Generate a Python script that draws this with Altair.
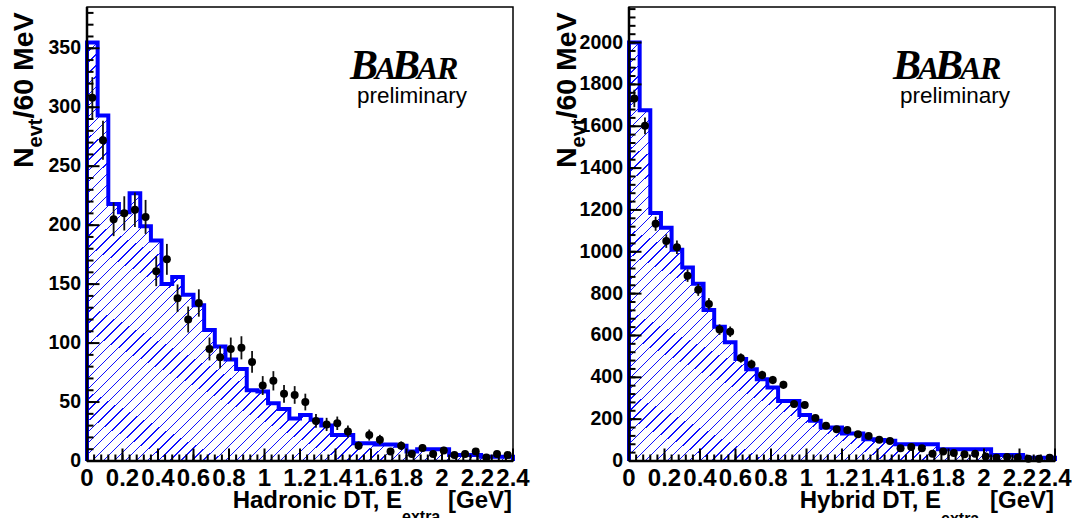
import altair as alt
import pandas as pd

# ---------------- data ----------------
edges = [round(0.06 * i, 2) for i in range(41)]          # 60 MeV bins, 0 .. 2.4 GeV
centers = [round(0.06 * i + 0.03, 3) for i in range(40)]

had_mc = [355, 293, 218, 211, 227, 199, 187, 150, 156, 141, 132, 111, 97, 86, 78, 60,
          59, 49, 44, 36, 39, 35, 30, 22, 22, 15, 15, 14, 14, 13, 8, 10, 10, 10, 5, 5,
          5, 3.5, 3.5, 3.5]
had_data = [308, 272, 205, 210, 213, 207, 161, 171, 138, 120, 134, 95, 88, 95, 96, 84,
            64, 68, 57, 56, 50, 34, 31, 32, 25, 13, 22, 18, 8, 13, 6, 11, 6, 9, 5, 6,
            8, 3, 6, 5]
had_err = [17.5, 16.5, 14.3, 14.5, 14.6, 14.4, 12.7, 13.1, 11.7, 11.0, 11.6, 9.7, 9.4,
           9.7, 9.8, 9.2, 8.0, 8.2, 7.5, 7.5, 7.1, 5.8, 5.6, 5.7, 5.0, 3.6, 4.7, 4.2,
           2.8, 3.6, 2.4, 3.3, 2.4, 3.0, 2.2, 2.4, 2.8, 1.7, 2.4, 2.2]

hyb_mc = [2000, 1677, 1185, 1115, 1010, 925, 847, 722, 642, 567, 487, 439, 391, 351,
          287, 287, 220, 192, 160, 160, 131, 131, 104, 100, 97, 80, 80, 80, 80, 56, 56,
          56, 56, 56, 29, 29, 29, 16, 16, 16]
hyb_data = [1733, 1602, 1134, 1051, 1022, 886, 818, 751, 628, 618, 492, 463, 411, 387,
            364, 272, 268, 205, 168, 152, 148, 128, 120, 102, 96, 61, 67, 61, 35, 45,
            38, 32, 35, 22, 16, 19, 16, 11, 11, 16]
hyb_err = [41.6, 40.0, 33.7, 32.4, 32.0, 29.8, 28.6, 27.4, 25.1, 24.9, 22.2, 21.5, 20.3,
           19.7, 19.1, 16.5, 16.4, 14.3, 13.0, 12.3, 12.2, 11.3, 11.0, 10.1, 9.8, 7.8,
           8.2, 7.8, 5.9, 6.7, 6.2, 5.7, 5.9, 4.7, 4.0, 4.4, 4.0, 3.3, 3.3, 4.0]

x_labels = [0, 0.2, 0.4, 0.6, 0.8, 1, 1.2, 1.4, 1.6, 1.8, 2, 2.2, 2.4]
x_label_text = ["0", "0.2", "0.4", "0.6", "0.8", "1", "1.2", "1.4", "1.6", "1.8", "2",
                "2.2", "2.4"]
x_minor = [round(0.04 * i, 2) for i in range(61)]
had_y_labels = [0, 50, 100, 150, 200, 250, 300, 350]
had_y_minor = [10 * i for i in range(39)]
hyb_y_labels = [0, 200, 400, 600, 800, 1000, 1200, 1400, 1600, 1800, 2000]
hyb_y_minor = [40 * i for i in range(55)]

W, H = 1072, 518
BLUE = "#0000ff"
SANS = "Liberation Sans"
SERIF = "Liberation Serif"
one = pd.DataFrame({"k": [0]})


def hatch_fill(n=77, frac=0.12):
    stops = []
    d = 1.0 / n
    for i in range(n):
        a = round(i * d, 6)
        b = round(i * d + d * (1 - frac), 6)
        c = round(min(1.0, (i + 1) * d), 6)
        stops += [alt.GradientStop(offset=a, color="white"),
                  alt.GradientStop(offset=b, color="white"),
                  alt.GradientStop(offset=b, color="#1010ff"),
                  alt.GradientStop(offset=c, color="#1010ff")]
    return alt.LinearGradient(gradient="linear", stops=stops, x1=0, y1=0, x2=1, y2=1)


def txt(s, x, y, size, weight="bold", font=SANS, align="left", angle=0, style="normal"):
    return alt.Chart(one).mark_text(
        align=align, baseline="alphabetic", fontSize=size, font=font,
        fontWeight=weight, fontStyle=style, angle=angle, color="black"
    ).encode(x=alt.value(x), y=alt.value(y), text=alt.value(s))


def panel(mc, data, err, ymax, x_px, y_px, y_labels, y_minor, y_lab_size,
          xtitle, e_right, sub_base, dx):
    xs = alt.Scale(domain=[0, 2.4], range=x_px, nice=False, zero=False)
    ys = alt.Scale(domain=[0, ymax], range=y_px, nice=False, zero=False)
    ppx = (x_px[1] - x_px[0]) / 2.4
    ppy = (y_px[0] - y_px[1]) / ymax

    area_df = pd.DataFrame({"x": edges, "y": mc + [mc[-1]]})
    line_df = pd.DataFrame({"x": [0] + edges + [2.4],
                            "y": [0] + mc + [mc[-1], 0],
                            "o": list(range(43))})
    pts_df = pd.DataFrame({"x": centers, "y": data,
                           "lo": [d - e for d, e in zip(data, err)],
                           "hi": [d + e for d, e in zip(data, err)]})

    area = alt.Chart(area_df).mark_area(interpolate="step-after", fill=hatch_fill(),
                                        opacity=1).encode(
        x=alt.X("x:Q", scale=xs, axis=None), y=alt.Y("y:Q", scale=ys, axis=None))
    outline = alt.Chart(line_df).mark_line(interpolate="step-after", color=BLUE,
                                           strokeWidth=4, strokeJoin="miter").encode(
        x=alt.X("x:Q", scale=xs, axis=None), y=alt.Y("y:Q", scale=ys, axis=None),
        order="o:Q")
    bars = alt.Chart(pts_df).mark_rule(color="#111111", strokeWidth=1.8).encode(
        x=alt.X("x:Q", scale=xs, axis=None), y=alt.Y("lo:Q", scale=ys, axis=None),
        y2="hi:Q")
    dots = alt.Chart(pts_df).mark_circle(color="black", size=64, opacity=1).encode(
        x=alt.X("x:Q", scale=xs, axis=None), y=alt.Y("y:Q", scale=ys, axis=None))

    # tick marks (pointing into the frame)
    ytk = pd.DataFrame({"v": y_minor + y_labels, "a": 0.0,
                        "b": [6.5 / ppx] * len(y_minor) + [12.5 / ppx] * len(y_labels)})
    xtk = pd.DataFrame({"v": x_minor + x_labels, "a": 0.0,
                        "b": [6.5 / ppy] * len(x_minor) + [12.5 / ppy] * len(x_labels)})
    yticks = alt.Chart(ytk).mark_rule(color="black", strokeWidth=2).encode(
        y=alt.Y("v:Q", scale=ys, axis=None), x=alt.X("a:Q", scale=xs, axis=None), x2="b:Q")
    xticks = alt.Chart(xtk).mark_rule(color="black", strokeWidth=2).encode(
        x=alt.X("v:Q", scale=xs, axis=None), y=alt.Y("a:Q", scale=ys, axis=None), y2="b:Q")

    # tick labels, placed through the scales
    xl = pd.DataFrame({"v": x_labels, "t": x_label_text})
    yl = pd.DataFrame({"v": y_labels, "t": [str(v) for v in y_labels]})
    xlab = alt.Chart(xl).mark_text(align="center", baseline="alphabetic", font=SANS,
                                   fontWeight="bold", fontSize=24, color="black").encode(
        x=alt.X("v:Q", scale=xs, axis=None), y=alt.value(486), text="t:N")
    ylab = alt.Chart(yl).mark_text(align="right", baseline="middle", font=SANS,
                                   fontWeight="bold", fontSize=y_lab_size,
                                   color="black").encode(
        y=alt.Y("v:Q", scale=ys, axis=None), x=alt.value(x_px[0] - 6), text="t:N")

    fr = pd.DataFrame({"x0": [0], "x1": [2.4], "y0": [0], "y1": [ymax]})
    frame = alt.Chart(fr).mark_rect(fillOpacity=0, stroke="black", strokeWidth=1.5).encode(
        x=alt.X("x0:Q", scale=xs, axis=None), x2="x1:Q",
        y=alt.Y("y0:Q", scale=ys, axis=None), y2="y1:Q")
    laxis = alt.Chart(fr).mark_rule(color="black", strokeWidth=2.5).encode(
        x=alt.X("x0:Q", scale=xs, axis=None),
        y=alt.Y("y0:Q", scale=ys, axis=None), y2="y1:Q")
    baxis = alt.Chart(fr).mark_rule(color="black", strokeWidth=2.5).encode(
        x=alt.X("x0:Q", scale=xs, axis=None), x2="x1:Q",
        y=alt.Y("y0:Q", scale=ys, axis=None))

    texts = [
        # y title  N_evt/60 MeV
        txt("N", 33 + dx, 168, 28.5, angle=270),
        txt("evt", 42 + dx, 147.4, 20, angle=270),
        txt("/60 MeV", 33 + dx, 118.5, 28.5, angle=270),
        # x title
        txt(xtitle, e_right, 508, 24, align="right"),
        txt("extra", e_right, sub_base, 16),
        txt("[GeV]", x_px[1] - 1, 508, 24, align="right"),
        # BABAR logo
        txt("B", 350 + dx, 79, 42, font=SERIF, style="italic"),
        txt("A", 375 + dx, 79, 32, font=SERIF, style="italic"),
        txt("B", 392 + dx, 79, 42, font=SERIF, style="italic"),
        txt("A", 417 + dx, 79, 32, font=SERIF, style="italic"),
        txt("R", 437 + dx, 79, 32, font=SERIF, style="italic"),
        txt("preliminary", 357 + dx, 103, 22.5, weight="normal"),
    ]
    return alt.layer(area, outline, bars, dots, yticks, xticks, frame, laxis, baxis,
                     xlab, ylab, *texts)


left = panel(had_mc, had_data, had_err, 385, [87, 513], [461, 7], had_y_labels,
             had_y_minor, 19.5, "Hadronic DT, E", 402, 522, 0)
right = panel(hyb_mc, hyb_data, hyb_err, 2170, [629, 1055], [461, 7], hyb_y_labels,
              hyb_y_minor, 19.5, "Hybrid DT, E", 941, 524, 543)

chart = alt.layer(left, right).resolve_scale(x="independent", y="independent").properties(
    width=W, height=H, padding=0, background="white",
    autosize=alt.AutoSizeParams(type="none")
).configure_view(stroke="transparent")

chart.save("out.html", embed_options={"renderer": "svg", "actions": False})
